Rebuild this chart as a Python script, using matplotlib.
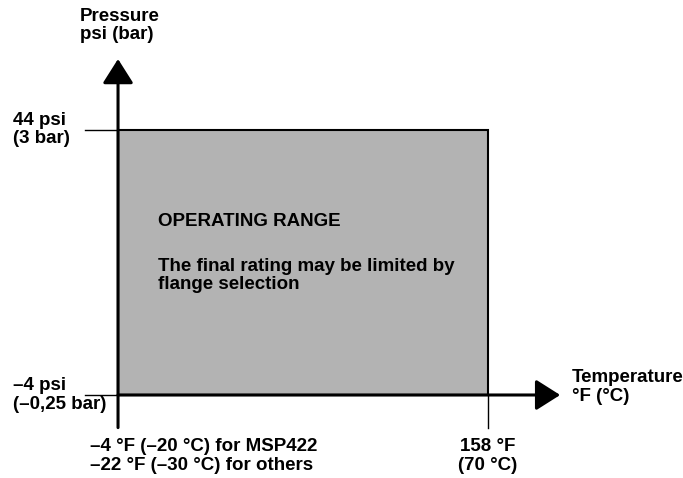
import matplotlib.pyplot as plt
from matplotlib.patches import Rectangle

plt.rcParams['font.family'] = ['Liberation Sans', 'DejaVu Sans']
plt.rcParams['font.weight'] = 'bold'
plt.rcParams['font.size'] = 13.5

# operating range (schematic)
temp_c = [-30, 70]          # min / max temperature
pressure_bar = [-0.25, 3]   # min / max pressure
temp_labels = ['\u20134 \u00b0F (\u201320 \u00b0C) for MSP422\n\u201322 \u00b0F (\u201330 \u00b0C) for others',
               '158 \u00b0F\n(70 \u00b0C)']
pressure_labels = ['\u20134 psi\n(\u20130,25 bar)', '44 psi\n(3 bar)']
x_title = 'Temperature\n\u00b0F (\u00b0C)'
y_title = 'Pressure\npsi (bar)'
range_title = 'OPERATING RANGE'
range_note = 'The final rating may be limited by\nflange selection'

fig = plt.figure(figsize=(6.83, 4.78), dpi=100)
ax = fig.add_axes([0, 0, 1, 1])
ax.set_xlim(-61.9, 122.7)
ax.set_ylim(-1.268, 4.594)
ax.axis('off')

t0, t1 = temp_c
p0, p1 = pressure_bar
ls = 1.08

# gray box
ax.add_patch(Rectangle((t0, p0), t1 - t0, p1 - p0, facecolor='#b3b3b3',
                       edgecolor='black', lw=1.5, zorder=1))

# tick extensions
ax.plot([t0 - 9, t0], [p1, p1], color='black', lw=1)
ax.plot([t0 - 9, t0], [p0, p0], color='black', lw=1)
ax.plot([t1, t1], [p0, p0 - 0.4], color='black', lw=1)

# axes with arrows
arrow = dict(arrowstyle='-|>,head_length=1.5,head_width=0.95',
             mutation_scale=10, lw=2.2, color='black', shrinkA=0, shrinkB=0)
ax.annotate('', xy=(t0, 3.87), xytext=(t0, p0 - 0.4), arrowprops=arrow, zorder=3)
ax.annotate('', xy=(89.5, p0), xytext=(t0, p0), arrowprops=arrow, zorder=3)

# labels
for p, lab in zip(pressure_bar, pressure_labels):
    ax.annotate(lab, xy=(t0, p), xytext=(-105, 0), textcoords='offset pixels',
                ha='left', va='center', linespacing=ls)
ax.annotate(temp_labels[0], xy=(t0, p0), xytext=(-28, -61), textcoords='offset pixels',
            ha='left', va='center', linespacing=ls)
ax.annotate(temp_labels[1], xy=(t1, p0), xytext=(0, -61), textcoords='offset pixels',
            ha='center', va='center', linespacing=ls)
ax.annotate(x_title, xy=(t1, p0), xytext=(84, 8), textcoords='offset pixels',
            ha='left', va='center', linespacing=ls)
ax.annotate(y_title, xy=(t0, p1), xytext=(-38, 104), textcoords='offset pixels',
            ha='left', va='center', linespacing=ls)
ax.annotate(range_title, xy=(t0, p1), xytext=(40, -92), textcoords='offset pixels',
            ha='left', va='center')
ax.annotate(range_note, xy=(t0, p1), xytext=(40, -146), textcoords='offset pixels',
            ha='left', va='center', linespacing=ls)

fig.savefig('out.png', dpi=100)
